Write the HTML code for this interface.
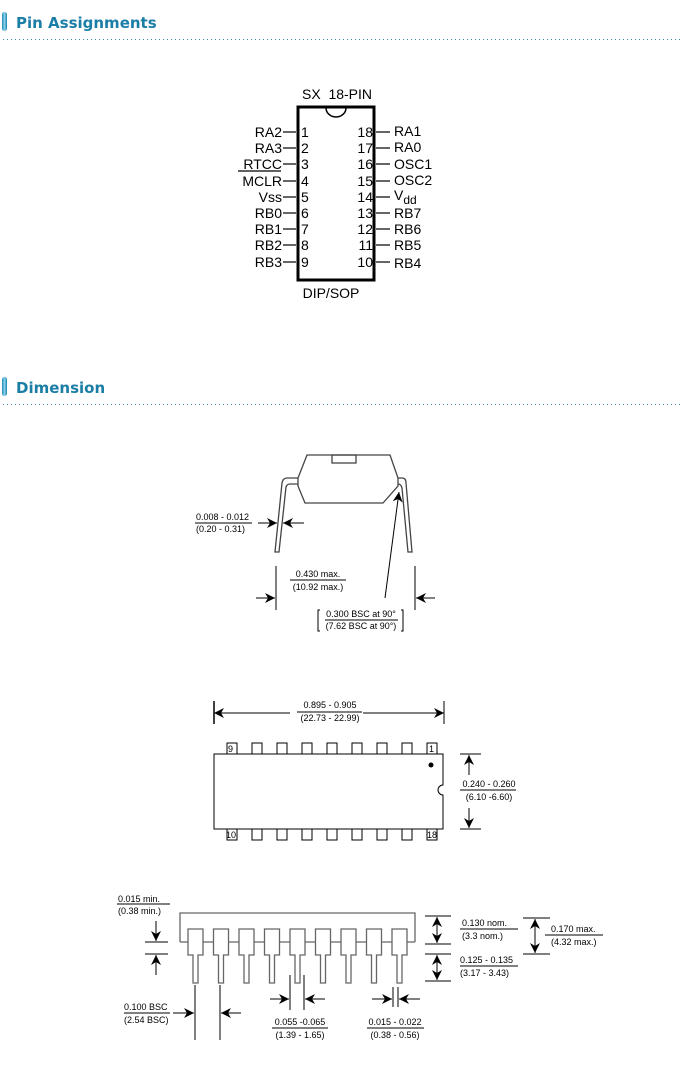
<!DOCTYPE html>
<html><head><meta charset="utf-8"><style>
html,body{margin:0;padding:0;background:#fff;}
svg{display:block;}
</style></head><body>
<svg width="680" height="1085" viewBox="0 0 680 1085" xmlns="http://www.w3.org/2000/svg" font-family="Liberation Sans, sans-serif">
<defs>
<linearGradient id="bar" x1="0" x2="1"><stop offset="0" stop-color="#1a86b0"/><stop offset="0.5" stop-color="#8fd6f0"/><stop offset="1" stop-color="#1a7ea6"/></linearGradient>
<marker id="ah" viewBox="0 0 10 10" refX="10" refY="5" markerWidth="10" markerHeight="10" orient="auto-start-reverse" markerUnits="userSpaceOnUse"><path d="M0,0 L10,5 L0,10 L3,5 Z" fill="#000"/></marker>
</defs>
<!-- headers -->
<rect x="2" y="12" width="5" height="19" rx="2.5" fill="url(#bar)"/>
<text x="16" y="28" font-size="15" font-weight="bold" fill="#1b7ea6" font-family="DejaVu Sans, sans-serif">Pin Assignments</text>
<line x1="3" y1="39.5" x2="680" y2="39.5" stroke="#3b8fae" stroke-dasharray="1,3"/>
<rect x="2" y="377" width="5" height="19" rx="2.5" fill="url(#bar)"/>
<text x="16" y="393" font-size="15" font-weight="bold" fill="#1b7ea6" font-family="DejaVu Sans, sans-serif">Dimension</text>
<line x1="3" y1="404.5" x2="680" y2="404.5" stroke="#3b8fae" stroke-dasharray="1,3"/>

<!-- pin diagram -->
<g font-size="14" fill="#000">
<text x="337" y="99" text-anchor="middle" xml:space="preserve">SX  18-PIN</text>
<rect x="298" y="107" width="76" height="173" fill="none" stroke="#000" stroke-width="3"/>
<path d="M326,108 A10,9 0 0 0 346,108" fill="none" stroke="#000" stroke-width="1.5"/>
<text x="331" y="298" text-anchor="middle">DIP/SOP</text>
<g stroke="#000" stroke-width="1.2">
<line x1="283" y1="132" x2="296" y2="132"/><line x1="283" y1="148" x2="296" y2="148"/><line x1="283" y1="164" x2="296" y2="164"/><line x1="283" y1="181" x2="296" y2="181"/><line x1="283" y1="197" x2="296" y2="197"/><line x1="283" y1="213" x2="296" y2="213"/><line x1="283" y1="229" x2="296" y2="229"/><line x1="283" y1="245" x2="296" y2="245"/><line x1="283" y1="262" x2="296" y2="262"/>
<line x1="376" y1="132" x2="390" y2="132"/><line x1="376" y1="148" x2="390" y2="148"/><line x1="376" y1="164" x2="390" y2="164"/><line x1="376" y1="181" x2="390" y2="181"/><line x1="376" y1="197" x2="390" y2="197"/><line x1="376" y1="213" x2="390" y2="213"/><line x1="376" y1="229" x2="390" y2="229"/><line x1="376" y1="245" x2="390" y2="245"/><line x1="376" y1="262" x2="390" y2="262"/>
<line x1="238" y1="171" x2="281" y2="171"/>
</g>
<g text-anchor="end">
<text x="282" y="137">RA2</text><text x="282" y="153">RA3</text><text x="282" y="169">RTCC</text><text x="282" y="186">MCLR</text><text x="282" y="202">Vss</text><text x="282" y="218">RB0</text><text x="282" y="234">RB1</text><text x="282" y="250">RB2</text><text x="282" y="267">RB3</text>
<text x="373" y="137">18</text><text x="373" y="153">17</text><text x="373" y="169">16</text><text x="373" y="186">15</text><text x="373" y="202">14</text><text x="373" y="218">13</text><text x="373" y="234">12</text><text x="373" y="250">11</text><text x="373" y="267">10</text>
</g>
<g>
<text x="301" y="137">1</text><text x="301" y="153">2</text><text x="301" y="169">3</text><text x="301" y="186">4</text><text x="301" y="202">5</text><text x="301" y="218">6</text><text x="301" y="234">7</text><text x="301" y="250">8</text><text x="301" y="267">9</text>
<text x="394" y="136">RA1</text><text x="394" y="152">RA0</text><text x="394" y="169">OSC1</text><text x="394" y="185">OSC2</text><text x="394" y="200">V<tspan font-size="12" dy="4">dd</tspan></text><text x="394" y="218">RB7</text><text x="394" y="234">RB6</text><text x="394" y="250">RB5</text><text x="394" y="268">RB4</text>
</g>
</g>

<!-- end view -->
<g fill="none" stroke="#444" stroke-width="1.3">
<path d="M307,455 L390,455 L398,478 L398,486 L383,503 L305,503 L298,486 L298,478 Z"/>
<rect x="332" y="455" width="24" height="8"/>
<path d="M298,478 L287,478 Q283,478 282,483 L275,552 L279,552 L286,487 Q287,484 290,484 L298,484"/>
<path d="M398,478 L402,478 Q406,478 406,483 L412,552 L408,552 L402,488 Q401,484 398,484"/>
</g>
<g stroke="#000" stroke-width="1" fill="none">
<line x1="258" y1="523" x2="277" y2="523" marker-end="url(#ah)"/>
<line x1="304" y1="523" x2="283" y2="523" marker-end="url(#ah)"/>
<line x1="195" y1="523" x2="252" y2="523"/>
<line x1="276" y1="566" x2="276" y2="610"/>
<line x1="415" y1="566" x2="415" y2="610"/>
<line x1="256" y1="598" x2="275" y2="598" marker-end="url(#ah)"/>
<line x1="435" y1="598" x2="416" y2="598" marker-end="url(#ah)"/>
<line x1="385" y1="598" x2="399" y2="492" marker-end="url(#ah)"/>
<line x1="290" y1="580" x2="346" y2="580"/>
<line x1="325" y1="620" x2="398" y2="620"/>
<path d="M320,610 L318,610 L318,631 L320,631"/>
<path d="M401,610 L403,610 L403,631 L401,631"/>
</g>
<g font-size="9" fill="#000" font-family="Liberation Sans Narrow, Liberation Sans, sans-serif">
<text x="196" y="520">0.008 - 0.012</text>
<text x="196" y="532">(0.20 - 0.31)</text>
<text x="318" y="577" text-anchor="middle">0.430 max.</text>
<text x="318" y="590" text-anchor="middle">(10.92 max.)</text>
<text x="361" y="617" text-anchor="middle">0.300 BSC at 90°</text>
<text x="361" y="629" text-anchor="middle">(7.62 BSC at 90°)</text>
</g>

<!-- top view -->
<g stroke="#000" stroke-width="1" fill="none">
<line x1="214" y1="701" x2="214" y2="724" stroke-width="1.5"/>
<line x1="444" y1="701" x2="444" y2="724"/>
<line x1="290" y1="713" x2="214" y2="713" marker-end="url(#ah)"/>
<line x1="363" y1="713" x2="444" y2="713" marker-end="url(#ah)"/>
<line x1="297" y1="712" x2="362" y2="712"/>
<path d="M214,754 L443,754 L443,785 A5,5 0 0 0 443,795 L443,829 L214,829 Z"/>
<g>
<rect x="227" y="743" width="10" height="11"/><rect x="252" y="743" width="10" height="11"/><rect x="277" y="743" width="10" height="11"/><rect x="302" y="743" width="10" height="11"/><rect x="327" y="743" width="10" height="11"/><rect x="352" y="743" width="10" height="11"/><rect x="377" y="743" width="10" height="11"/><rect x="402" y="743" width="10" height="11"/><rect x="427" y="743" width="10" height="11"/>
<rect x="227" y="829" width="10" height="11"/><rect x="252" y="829" width="10" height="11"/><rect x="277" y="829" width="10" height="11"/><rect x="302" y="829" width="10" height="11"/><rect x="327" y="829" width="10" height="11"/><rect x="352" y="829" width="10" height="11"/><rect x="377" y="829" width="10" height="11"/><rect x="402" y="829" width="10" height="11"/><rect x="427" y="829" width="10" height="11"/>
</g>
<line x1="460" y1="754" x2="481" y2="754"/>
<line x1="460" y1="829" x2="481" y2="829"/>
<line x1="469" y1="775" x2="469" y2="755" marker-end="url(#ah)"/>
<line x1="469" y1="808" x2="469" y2="828" marker-end="url(#ah)"/>
<line x1="460" y1="790" x2="516" y2="790"/>
</g>
<circle cx="431" cy="765" r="2.5" fill="#000"/>
<g font-size="9" fill="#000" font-family="Liberation Sans Narrow, Liberation Sans, sans-serif">
<text x="330" y="708" text-anchor="middle">0.895 - 0.905</text>
<text x="330" y="721" text-anchor="middle">(22.73 - 22.99)</text>
<text x="228" y="752">9</text><text x="429" y="752">1</text>
<text x="226" y="838">10</text><text x="427" y="838">18</text>
<text x="489" y="787" text-anchor="middle">0.240 - 0.260</text>
<text x="489" y="800" text-anchor="middle">(6.10 -6.60)</text>
</g>

<!-- side view -->
<g fill="#fff" stroke="#666" stroke-width="1.3">
<path d="M180,942 L180,913 L415,913 L415,942" fill="none"/>
<line x1="180" y1="942" x2="415" y2="942"/>
<g>
<path d="M188,929 h15 v26 h-5 v28 h-5 v-28 h-5 Z"/>
<path d="M213.5,929 h15 v26 h-5 v28 h-5 v-28 h-5 Z"/>
<path d="M239,929 h15 v26 h-5 v28 h-5 v-28 h-5 Z"/>
<path d="M264.5,929 h15 v26 h-5 v28 h-5 v-28 h-5 Z"/>
<path d="M290,929 h15 v26 h-5 v28 h-5 v-28 h-5 Z"/>
<path d="M315.5,929 h15 v26 h-5 v28 h-5 v-28 h-5 Z"/>
<path d="M341,929 h15 v26 h-5 v28 h-5 v-28 h-5 Z"/>
<path d="M366.5,929 h15 v26 h-5 v28 h-5 v-28 h-5 Z"/>
<path d="M392,929 h15 v26 h-5 v28 h-5 v-28 h-5 Z"/>
</g>
</g>
<g stroke="#000" stroke-width="1" fill="none">
<line x1="117" y1="904" x2="170" y2="904"/>
<line x1="145" y1="942" x2="168" y2="942"/>
<line x1="145" y1="954" x2="168" y2="954"/>
<line x1="156" y1="921" x2="156" y2="941" marker-end="url(#ah)"/>
<line x1="156" y1="975" x2="156" y2="955" marker-end="url(#ah)"/>
<line x1="425" y1="916" x2="451" y2="916"/>
<line x1="425" y1="944" x2="451" y2="944"/>
<line x1="425" y1="954" x2="451" y2="954"/>
<line x1="425" y1="981" x2="451" y2="981"/>
<line x1="437" y1="930" x2="437" y2="917" marker-end="url(#ah)"/>
<line x1="437" y1="930" x2="437" y2="943" marker-end="url(#ah)"/>
<line x1="437" y1="967" x2="437" y2="955" marker-end="url(#ah)"/>
<line x1="437" y1="967" x2="437" y2="980" marker-end="url(#ah)"/>
<line x1="460" y1="929" x2="518" y2="929"/>
<line x1="460" y1="966" x2="518" y2="966"/>
<line x1="523" y1="918" x2="550" y2="918"/>
<line x1="523" y1="954" x2="550" y2="954"/>
<line x1="535" y1="936" x2="535" y2="919" marker-end="url(#ah)"/>
<line x1="535" y1="936" x2="535" y2="953" marker-end="url(#ah)"/>
<line x1="545" y1="935" x2="603" y2="935"/>
<line x1="195" y1="985" x2="195" y2="1040"/>
<line x1="220" y1="985" x2="220" y2="1040"/>
<line x1="173" y1="1013" x2="194" y2="1013" marker-end="url(#ah)"/>
<line x1="241" y1="1013" x2="221" y2="1013" marker-end="url(#ah)"/>
<line x1="124" y1="1013" x2="170" y2="1013"/>
<line x1="290" y1="975" x2="290" y2="1010"/>
<line x1="304" y1="975" x2="304" y2="1010"/>
<line x1="270" y1="999" x2="289" y2="999" marker-end="url(#ah)"/>
<line x1="325" y1="999" x2="305" y2="999" marker-end="url(#ah)"/>
<line x1="272" y1="1028" x2="328" y2="1028"/>
<line x1="393" y1="987" x2="393" y2="1007"/>
<line x1="398" y1="987" x2="398" y2="1007"/>
<line x1="372" y1="999" x2="392" y2="999" marker-end="url(#ah)"/>
<line x1="420" y1="999" x2="399" y2="999" marker-end="url(#ah)"/>
<line x1="367" y1="1028" x2="424" y2="1028"/>
</g>
<g font-size="9" fill="#000" font-family="Liberation Sans Narrow, Liberation Sans, sans-serif">
<text x="118" y="902">0.015 min.</text>
<text x="118" y="914">(0.38 min.)</text>
<text x="462" y="926">0.130 nom.</text>
<text x="462" y="939">(3.3 nom.)</text>
<text x="460" y="963">0.125 - 0.135</text>
<text x="460" y="976">(3.17 - 3.43)</text>
<text x="551" y="932">0.170 max.</text>
<text x="551" y="945">(4.32 max.)</text>
<text x="124" y="1010">0.100 BSC</text>
<text x="124" y="1023">(2.54 BSC)</text>
<text x="300" y="1025" text-anchor="middle">0.055 -0.065</text>
<text x="300" y="1038" text-anchor="middle">(1.39 - 1.65)</text>
<text x="395" y="1025" text-anchor="middle">0.015 - 0.022</text>
<text x="395" y="1038" text-anchor="middle">(0.38 - 0.56)</text>
</g>
</svg>
</body></html>
